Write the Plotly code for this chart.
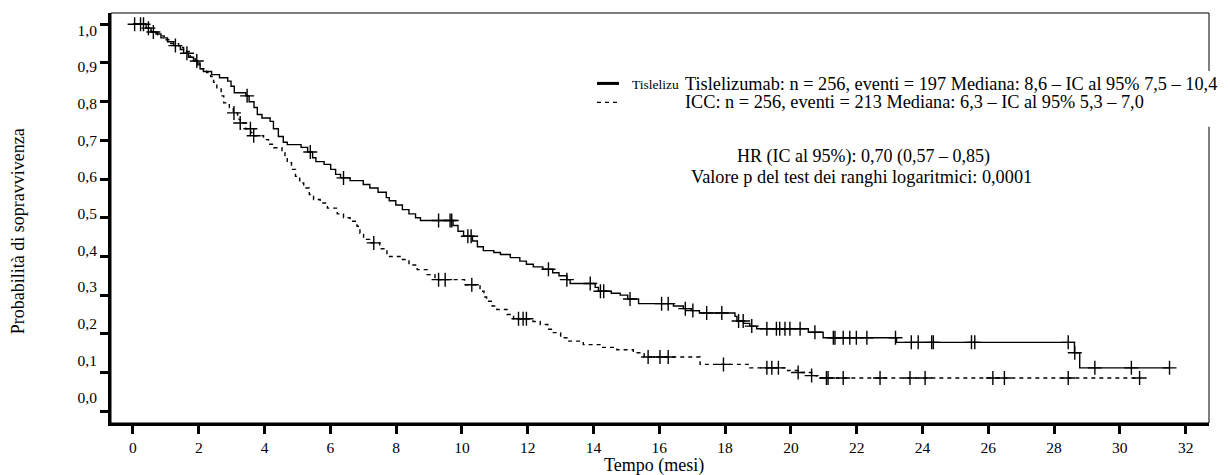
import numpy as np
import plotly.graph_objects as go

# ---- data ----
tis_time = [0, 0.40, 0.55, 0.70, 0.85, 1.05, 1.24, 1.44, 1.54, 1.69, 1.84, 1.97, 2.04, 2.14, 2.39, 2.63,
            2.88, 2.98, 3.08, 3.43, 3.53, 3.68, 3.78, 3.92, 4.17, 4.27, 4.42, 4.57, 4.69, 5.11, 5.31,
            5.46, 5.56, 5.81, 6.01, 6.16, 6.31, 6.60, 7.00, 7.20, 7.45, 7.70, 7.79, 7.99, 8.19, 8.39,
            8.59, 8.74, 9.73, 9.88, 10.05, 10.32, 10.47, 10.65, 10.97, 11.17, 11.47, 11.76, 11.96,
            12.17, 12.46, 12.76, 12.95, 13.19, 13.29, 14.05, 14.15, 14.54, 14.81, 15.04, 15.37, 16.43,
            16.73, 16.97, 17.22, 18.30, 18.36, 18.56, 18.75, 18.96, 20.53, 20.98, 23.21, 28.62, 28.78]
tis_surv = [1.0, 0.99, 0.98, 0.975, 0.965, 0.955, 0.945, 0.935, 0.925, 0.915, 0.905, 0.895, 0.885, 0.878,
            0.87, 0.862, 0.853, 0.84, 0.823, 0.815, 0.80, 0.785, 0.767, 0.758, 0.749, 0.73, 0.71, 0.695,
            0.689, 0.682, 0.67, 0.655, 0.645, 0.638, 0.625, 0.612, 0.603, 0.596, 0.586, 0.577, 0.566,
            0.552, 0.544, 0.533, 0.521, 0.51, 0.50, 0.493, 0.48, 0.465, 0.452, 0.44, 0.425, 0.415, 0.41,
            0.405, 0.397, 0.388, 0.38, 0.373, 0.367, 0.358, 0.35, 0.34, 0.33, 0.32, 0.31, 0.305, 0.30,
            0.29, 0.278, 0.272, 0.265, 0.26, 0.254, 0.245, 0.233, 0.227, 0.22, 0.213, 0.204, 0.19, 0.178,
            0.151, 0.112]
tis_end = 31.51
tis_cens = [0.05, 0.23, 0.32, 0.47, 0.62, 1.29, 1.64, 1.94, 3.47, 5.39, 6.40, 9.29, 9.64, 9.69, 10.18,
            10.28, 12.63, 13.19, 13.90, 14.21, 14.31, 15.11, 16.07, 16.27, 16.79, 17.02, 17.44, 17.90,
            18.41, 18.55, 18.81, 19.27, 19.56, 19.66, 19.82, 19.97, 20.28, 20.73, 21.29, 21.34, 21.59,
            21.79, 21.99, 22.31, 23.18, 23.66, 23.87, 24.28, 24.33, 25.49, 25.59, 28.43, 28.63, 29.24,
            30.35, 31.51]

icc_time = [0, 0.40, 0.55, 0.75, 0.95, 1.15, 1.39, 1.54, 1.74, 1.89, 2.04, 2.24, 2.36, 2.45, 2.55, 2.68,
            2.76, 2.93, 3.05, 3.18, 3.26, 3.43, 3.58, 3.67, 3.97, 4.12, 4.28, 4.53, 4.62, 4.69, 4.82,
            4.94, 5.07, 5.19, 5.36, 5.49, 5.69, 5.91, 6.21, 6.40, 6.60, 6.81, 6.90, 7.01, 7.20, 7.50,
            7.72, 8.12, 8.39, 8.64, 8.94, 9.18, 10.08, 10.55, 10.67, 10.75, 10.92, 11.06, 11.37, 11.57,
            12.16, 12.38, 12.61, 12.78, 13.00, 13.19, 13.69, 14.25, 14.71, 15.21, 15.54, 17.24, 18.75,
            19.90, 20.22, 20.63, 20.78]
icc_surv = [1.0, 0.99, 0.98, 0.97, 0.96, 0.95, 0.94, 0.93, 0.915, 0.90, 0.885, 0.875, 0.865, 0.85, 0.836,
            0.815, 0.797, 0.785, 0.771, 0.755, 0.745, 0.73, 0.72, 0.712, 0.702, 0.69, 0.681, 0.668,
            0.655, 0.642, 0.625, 0.607, 0.59, 0.577, 0.56, 0.547, 0.538, 0.525, 0.51, 0.50, 0.491, 0.478,
            0.46, 0.444, 0.435, 0.42, 0.40, 0.392, 0.378, 0.366, 0.353, 0.34, 0.327, 0.31, 0.295, 0.284,
            0.272, 0.263, 0.25, 0.239, 0.232, 0.224, 0.212, 0.203, 0.19, 0.181, 0.172, 0.165, 0.159,
            0.151, 0.14, 0.121, 0.112, 0.105, 0.10, 0.092, 0.086]
icc_end = 30.60
icc_cens = [3.07, 3.26, 3.57, 3.67, 7.32, 9.29, 9.49, 10.30, 11.72, 11.86, 11.96, 15.66, 16.02, 16.27,
            17.95, 19.27, 19.42, 19.62, 20.22, 20.63, 21.08, 21.13, 21.59, 22.71, 23.62, 24.08, 26.14,
            26.49, 28.43, 30.60]

y_ticks = [0, 0.1, 0.2, 0.3, 0.4, 0.5, 0.6, 0.7, 0.8, 0.9, 1.0]
y_ticktext = ["0,0", "0,1", "0,2", "0,3", "0,4", "0,5", "0,6", "0,7", "0,8", "0,9", "1,0"]
x_ticks = list(range(0, 33, 2))

legend_tis = "Tislelizumab: n = 256, eventi = 197 Mediana: 8,6 – IC al 95% 7,5 – 10,4"
legend_icc = "ICC: n = 256, eventi = 213 Mediana: 6,3 – IC al 95% 5,3 – 7,0"
hr_text = "HR (IC al 95%): 0,70 (0,57 – 0,85)"
p_text = "Valore p del test dei ranghi logaritmici: 0,0001"

FONT = "Liberation Serif"


def step_at(times, surv, t):
    idx = np.searchsorted(np.asarray(times), t, side="right") - 1
    return np.asarray(surv)[idx]


fig = go.Figure()
for times, surv, end, cens, dash in [
    (tis_time, tis_surv, tis_end, tis_cens, "solid"),
    (icc_time, icc_surv, icc_end, icc_cens, "4px,4px"),
]:
    xs = list(times) + [end]
    ys = list(surv) + [surv[-1]]
    fig.add_trace(go.Scatter(x=xs, y=ys, mode="lines", line=dict(shape="hv", color="black", width=1.4, dash=dash),
                             showlegend=False, hoverinfo="skip"))
    fig.add_trace(go.Scatter(x=cens, y=step_at(times, surv, np.asarray(cens)), mode="markers",
                             marker=dict(symbol="cross-thin", size=10, line=dict(color="black", width=1.4)),
                             showlegend=False, hoverinfo="skip"))

# invisible trace to activate secondary y axis for tick labels
fig.add_trace(go.Scatter(x=[None], y=[None], yaxis="y2", showlegend=False, hoverinfo="skip"))

OFF = 8  # page body margin
W, H = 1230 - OFF, 475 - OFF
L, R, T, B = 111 - OFF, 21, 13 - OFF, 51.5
pw, ph = W - L - R, H - T - B


def px(xp):  # page pixel -> paper x
    return (xp - OFF - L) / pw


def py(yp):  # page pixel -> paper y
    return (H - B - (yp - OFF)) / ph


fig.update_layout(
    width=W, height=H,
    margin=dict(l=L, r=R, t=T, b=B),
    paper_bgcolor="white", plot_bgcolor="white",
    font=dict(family=FONT, color="black", size=18),
    xaxis=dict(range=[-0.668, 32.71], tickvals=x_ticks, ticks="outside", ticklen=8, tickwidth=3,
               tickcolor="black", showline=True, linewidth=3, linecolor="black", showgrid=False,
               zeroline=False, tickfont=dict(size=15.5, family=FONT)),
    yaxis=dict(range=[-0.0305, 1.0292], tickvals=y_ticks, ticks="outside", ticklen=8, tickwidth=3,
               tickcolor="black", showline=True, linewidth=3, linecolor="black", showgrid=False,
               zeroline=False, showticklabels=False),
    yaxis2=dict(overlaying="y", side="left", range=[-0.0707, 1.047], tickvals=y_ticks, ticktext=y_ticktext,
                ticks="outside", ticklen=10, tickcolor="rgba(0,0,0,0)", showline=False, showgrid=False,
                zeroline=False, tickfont=dict(size=15.5, family=FONT)),
    showlegend=False,
)

shapes = [
    dict(type="rect", xref="paper", yref="paper", x0=0, x1=1, y0=0, y1=1, line=dict(color="black", width=1),
         layer="below"),
    dict(type="rect", xref="paper", yref="paper", x0=px(592), x1=px(1232), y0=py(127), y1=py(71),
         fillcolor="white", line=dict(width=0), layer="above"),
    dict(type="line", xref="paper", yref="paper", x0=px(597), x1=px(619), y0=py(83.5), y1=py(83.5),
         line=dict(color="black", width=3)),
    dict(type="line", xref="paper", yref="paper", x0=px(597), x1=px(619), y0=py(102.5), y1=py(102.5),
         line=dict(color="black", width=1.4, dash="4px,4px")),
]
fig.update_layout(shapes=shapes)

ann = [
    dict(text="Tislelizu", x=px(630), y=py(85), xanchor="left", yanchor="middle", font=dict(size=13.5)),
    dict(text=legend_tis, x=px(683), y=py(84), xanchor="left", yanchor="middle", font=dict(size=18.3)),
    dict(text=legend_icc, x=px(683), y=py(102), xanchor="left", yanchor="middle", font=dict(size=18.3)),
    dict(text=hr_text, x=px(863), y=py(156.7), xanchor="center", yanchor="middle", font=dict(size=18)),
    dict(text=p_text, x=px(861), y=py(176.7), xanchor="center", yanchor="middle", font=dict(size=18.3)),
    dict(text="Tempo (mesi)", x=px(654), y=py(466), xanchor="center", yanchor="middle", font=dict(size=18)),
    dict(text="Probabilità di sopravvivenza", x=px(18), y=py(231.5), xanchor="center", yanchor="middle",
         textangle=-90, font=dict(size=18)),
]
for a in ann:
    a.update(xref="paper", yref="paper", showarrow=False)
fig.update_layout(annotations=ann)

fig.write_html("out.html")
